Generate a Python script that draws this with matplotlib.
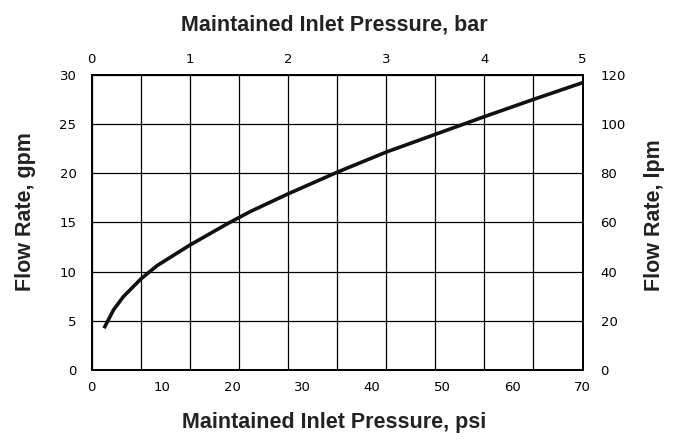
import matplotlib
matplotlib.use('Agg')
import matplotlib.pyplot as plt
from matplotlib import font_manager
import numpy as np

# Datos (psi vs gpm)
presion_psi = [1.75, 3.1, 4.5, 7.0, 9.3, 14.0, 19.3, 22.6, 28.0, 35.0, 42.0, 49.0, 56.0, 63.0, 70.0]
caudal_gpm = [4.25, 6.1, 7.45, 9.25, 10.6, 12.7, 14.85, 16.1, 17.9, 20.1, 22.15, 23.95, 25.75, 27.5, 29.2]

ticks_psi = [0, 10, 20, 30, 40, 50, 60, 70]
ticks_bar = [0, 1, 2, 3, 4, 5]
ticks_gpm = [0, 5, 10, 15, 20, 25, 30]
ticks_lpm = [0, 20, 40, 60, 80, 100, 120]

# Fuente para los titulos de ejes
nombres = {f.name for f in font_manager.fontManager.ttflist}
fuente_titulo = 'Liberation Sans Narrow' if 'Liberation Sans Narrow' in nombres else 'Liberation Sans'
tam_titulo = 16 if fuente_titulo == 'Liberation Sans Narrow' else 15.5

fig = plt.figure(figsize=(6.77, 4.40), dpi=100)
ax = fig.add_axes([0.1355, 0.159, 0.725, 0.671])

ax.plot(presion_psi, caudal_gpm, color='#111111', linewidth=2.6,
        solid_capstyle='butt', solid_joinstyle='round')

ax.set_xlim(0, 70)
ax.set_ylim(0, 30)
ax.set_xticks(ticks_psi)
ax.set_yticks(ticks_gpm)
ax.tick_params(axis='both', length=0, labelsize=9.5, colors='black')
ax.tick_params(axis='x', pad=8)
ax.tick_params(axis='y', pad=11)

# Ejes secundarios: bar arriba, lpm a la derecha
ax_top = ax.twiny()
ax_top.set_xlim(0, 5)
ax_top.set_xticks(ticks_bar)
ax_top.set_xticks(np.arange(0, 5.01, 0.5), minor=True)
ax_top.tick_params(axis='x', which='both', length=0, labelsize=9.5, pad=6)
ax_top.grid(True, which='both', axis='x', color='black', linewidth=0.9)

ax_der = ax.twinx()
ax_der.set_ylim(0, 120)
ax_der.set_yticks(ticks_lpm)
ax_der.tick_params(axis='y', length=0, labelsize=9.5, pad=13)
ax_der.grid(True, axis='y', color='black', linewidth=0.9)

for a in (ax, ax_top, ax_der):
    for s in a.spines.values():
        s.set_linewidth(1.3)
        s.set_color('black')
ax.set_zorder(3)
ax.patch.set_visible(False)

fig.text(0.494, 0.943, 'Maintained Inlet Pressure, bar', ha='center', va='center',
         fontsize=tam_titulo, fontweight='bold', family=fuente_titulo, color='#222222')
fig.text(0.494, 0.04, 'Maintained Inlet Pressure, psi', ha='center', va='center',
         fontsize=tam_titulo, fontweight='bold', family=fuente_titulo, color='#222222')
fig.text(0.037, 0.52, 'Flow Rate, gpm', ha='center', va='center', rotation=90,
         fontsize=tam_titulo, fontweight='bold', family=fuente_titulo, color='#222222')
fig.text(0.967, 0.51, 'Flow Rate, lpm', ha='center', va='center', rotation=90,
         fontsize=tam_titulo, fontweight='bold', family=fuente_titulo, color='#222222')

plt.savefig('out.png', dpi=100)
plt.close()
